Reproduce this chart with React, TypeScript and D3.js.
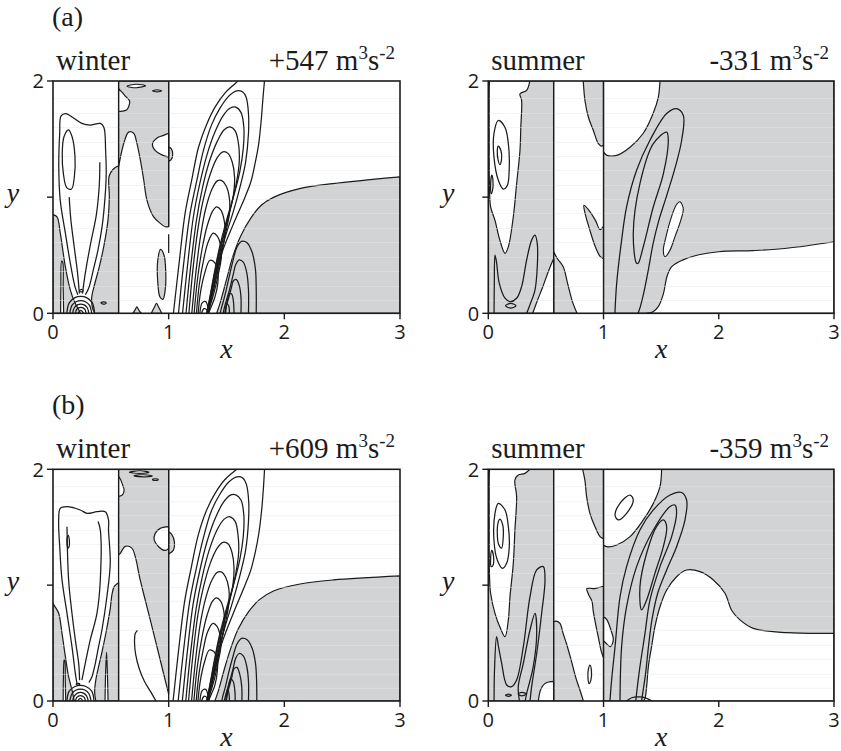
import * as d3 from 'd3'

type Pt = [number, number]
type Area = { e: Pt[]; c: Pt[] }

// ── Axes ────────────────────────────────────────────────────────────────────
const X_TICKS = [0, 1, 2, 3]
const Y_TICKS = [0, 1, 2]
const Y_TICK_LABELS = ['0', '', '2']
const STREAKS_Y = [0.11, 0.23, 0.36, 0.48, 0.61, 0.73, 0.86, 0.98, 1.1, 1.23, 1.35, 1.47, 1.6, 1.72, 1.85]

// ── (a) winter ──────────────────────────────────────────────────────────────
const WA_GRAY: Area[] = [
  { e: [[0, 0.85], [0.035, 0.83], [0.063, 0.69], [0.107, 0.4], [0.15, 0.2], [0.19, 0.09], [0.22, 0.035], [0.236, 0]], c: [[0, 0]] },
  { e: [[0.567, 1.27], [0.52, 1.24], [0.485, 1.18], [0.487, 1.0], [0.475, 0.8], [0.44, 0.58], [0.4, 0.4], [0.36, 0.25], [0.335, 0.14], [0.34, 0.05], [0.36, 0]], c: [[0.567, 0]] },
  { e: [[0.567, 1.26], [0.611, 1.46], [0.654, 1.56], [0.697, 1.55], [0.726, 1.46], [0.755, 1.32], [0.784, 1.15], [0.813, 0.97], [0.87, 0.83], [0.928, 0.774], [0.971, 0.745], [1, 0.745]], c: [[1, 2], [0.567, 2]] },
  { e: [[0.69, 0], [0.71, 0.03], [0.725, 0.055], [0.74, 0.03], [0.765, 0]], c: [] },
  { e: [[0.85, 0], [0.875, 0.05], [0.895, 0.085], [0.915, 0.05], [0.94, 0]], c: [] },
  { e: [[1, 1.43], [1.02, 1.42], [1.035, 1.37], [1.02, 1.32], [1, 1.31]], c: [] },
  { e: [[1.415, 0], [1.445, 0.09], [1.5, 0.29], [1.555, 0.49], [1.625, 0.67], [1.71, 0.82], [1.8, 0.93], [1.91, 1.0], [2.14, 1.075], [2.42, 1.117], [3, 1.175]], c: [[3, 0]] },
]
const WA_GRAY_BLOBS: Pt[][] = [
  [[0.93, 0.55], [0.96, 0.5], [0.975, 0.35], [0.97, 0.2], [0.95, 0.12], [0.925, 0.14], [0.905, 0.28], [0.905, 0.45]],
]
const WA_WHITE: Area[] = [
  { e: [[0.066, 0], [0.068, 0.22], [0.075, 0.45], [0.084, 0.44], [0.088, 0.22], [0.092, 0]], c: [] },
  { e: [[0.567, 1.935], [0.6, 1.9], [0.625, 1.87], [0.662, 1.83], [0.655, 1.78], [0.635, 1.75], [0.6, 1.74], [0.567, 1.74]], c: [] },
  { e: [[1, 1.55], [0.95, 1.53], [0.9, 1.51], [0.86, 1.46], [0.885, 1.4], [0.95, 1.36], [1, 1.345]], c: [] },
]
const WA_WHITE_BLOBS: Pt[][] = [
  [[0.64, 1.955], [0.72, 1.972], [0.8, 1.96], [0.72, 1.942]],
  [[0.86, 1.915], [0.9, 1.924], [0.94, 1.915], [0.9, 1.906]],
]
const WA_LOOPS: Pt[][] = [
  [[0.134, 1.58], [0.165, 1.52], [0.19, 1.35], [0.185, 1.18], [0.16, 1.07], [0.12, 1.08], [0.09, 1.2], [0.08, 1.38], [0.095, 1.52]],
  [[0.245, 0.205], [0.26, 0.195], [0.245, 0.185], [0.23, 0.195]],
  [[0.415, 0.09], [0.44, 0.098], [0.46, 0.088], [0.44, 0.078]],
]
const WA_LINES: Pt[][] = [
  [[0.215, 0.16], [0.19, 0.23], [0.15, 0.43], [0.107, 0.69], [0.063, 0.97], [0.05, 1.26], [0.058, 1.55], [0.07, 1.7], [0.11, 1.72], [0.18, 1.68], [0.25, 1.635], [0.32, 1.62], [0.41, 1.635], [0.44, 1.6], [0.455, 1.4], [0.46, 1.2], [0.45, 1.0], [0.425, 0.75], [0.39, 0.55], [0.35, 0.38], [0.31, 0.22], [0.28, 0.16]],
  [[0.228, 0.17], [0.212, 0.35], [0.185, 0.56], [0.155, 0.8], [0.14, 1.0]],
  [[0.255, 0.17], [0.28, 0.35], [0.325, 0.6], [0.375, 0.85], [0.4, 1.1], [0.405, 1.3]],
  [[0.12, 0], [0.14, 0.09], [0.19, 0.135], [0.24, 0.145], [0.29, 0.135], [0.34, 0.09], [0.36, 0]],
  [[0.145, 0], [0.165, 0.07], [0.2, 0.1], [0.24, 0.11], [0.28, 0.1], [0.315, 0.07], [0.335, 0]],
  [[0.17, 0], [0.185, 0.05], [0.215, 0.075], [0.24, 0.08], [0.265, 0.075], [0.295, 0.05], [0.31, 0]],
  [[0.195, 0], [0.205, 0.035], [0.24, 0.05], [0.275, 0.035], [0.285, 0]],
  [[0.215, 0], [0.24, 0.025], [0.265, 0]],
  [[1.041, 0], [1.09, 0.43], [1.142, 0.86], [1.2, 1.15], [1.258, 1.43], [1.33, 1.63], [1.402, 1.777], [1.49, 1.9], [1.574, 1.977], [1.62, 2.02]],
  [[1.83, 2.02], [1.815, 1.85], [1.8, 1.66], [1.777, 1.45], [1.747, 1.29], [1.71, 1.13], [1.66, 1.0], [1.56, 0.77], [1.46, 0.52], [1.4, 0.29], [1.365, 0.12], [1.345, 0]],
  [[1.085, 0], [1.13, 0.43], [1.185, 0.86], [1.245, 1.15], [1.3, 1.4], [1.37, 1.62], [1.44, 1.76], [1.52, 1.87], [1.59, 1.915], [1.64, 1.905], [1.67, 1.86], [1.69, 1.72], [1.69, 1.55], [1.665, 1.3], [1.62, 1.1], [1.56, 0.88], [1.49, 0.66], [1.43, 0.44], [1.385, 0.24], [1.355, 0.1], [1.34, 0]],
  [[1.12, 0], [1.165, 0.43], [1.215, 0.84], [1.27, 1.12], [1.33, 1.36], [1.4, 1.56], [1.47, 1.7], [1.53, 1.765], [1.58, 1.775], [1.625, 1.73], [1.65, 1.6], [1.645, 1.42], [1.615, 1.22], [1.565, 1.02], [1.5, 0.8], [1.44, 0.57], [1.395, 0.35], [1.36, 0.16], [1.34, 0.05], [1.335, 0]],
  [[1.15, 0], [1.19, 0.4], [1.24, 0.8], [1.29, 1.07], [1.35, 1.3], [1.42, 1.48], [1.48, 1.58], [1.53, 1.605], [1.575, 1.57], [1.605, 1.45], [1.61, 1.3], [1.585, 1.12], [1.54, 0.93], [1.48, 0.7], [1.425, 0.48], [1.385, 0.28], [1.355, 0.12], [1.335, 0.03], [1.33, 0]],
  [[1.175, 0], [1.21, 0.38], [1.255, 0.74], [1.3, 0.98], [1.36, 1.2], [1.42, 1.34], [1.47, 1.39], [1.515, 1.375], [1.55, 1.3], [1.57, 1.17], [1.56, 1.02], [1.52, 0.84], [1.465, 0.62], [1.415, 0.4], [1.38, 0.22], [1.35, 0.08], [1.33, 0]],
  [[1.2, 0], [1.235, 0.35], [1.275, 0.66], [1.32, 0.9], [1.375, 1.07], [1.42, 1.14], [1.455, 1.145], [1.495, 1.1], [1.525, 0.99], [1.525, 0.86], [1.49, 0.68], [1.445, 0.48], [1.4, 0.28], [1.365, 0.12], [1.335, 0.02], [1.33, 0]],
  [[1.22, 0], [1.25, 0.3], [1.29, 0.56], [1.335, 0.76], [1.38, 0.88], [1.415, 0.917], [1.45, 0.89], [1.48, 0.8], [1.485, 0.68], [1.46, 0.52], [1.42, 0.34], [1.38, 0.17], [1.35, 0.06], [1.33, 0]],
  [[1.24, 0], [1.265, 0.25], [1.3, 0.45], [1.34, 0.61], [1.385, 0.69], [1.42, 0.665], [1.45, 0.58], [1.455, 0.48], [1.43, 0.34], [1.395, 0.19], [1.36, 0.07], [1.335, 0]],
  [[1.255, 0], [1.275, 0.18], [1.31, 0.34], [1.355, 0.455], [1.395, 0.44], [1.425, 0.36], [1.425, 0.26], [1.4, 0.14], [1.365, 0.05], [1.345, 0]],
  [[1.27, 0], [1.29, 0.09], [1.32, 0.1], [1.34, 0.05], [1.345, 0]],
  [[1.285, 0], [1.305, 0.04], [1.33, 0.03], [1.335, 0]],
  [[1.757, 0], [1.757, 0.2], [1.75, 0.38], [1.72, 0.53], [1.675, 0.61], [1.63, 0.62], [1.59, 0.57], [1.555, 0.45], [1.52, 0.3], [1.485, 0.15], [1.455, 0.04], [1.445, 0]],
  [[1.69, 0], [1.69, 0.2], [1.675, 0.35], [1.645, 0.44], [1.61, 0.46], [1.58, 0.42], [1.555, 0.32], [1.525, 0.2], [1.49, 0.08], [1.47, 0]],
  [[1.625, 0], [1.625, 0.14], [1.61, 0.24], [1.585, 0.29], [1.56, 0.28], [1.54, 0.21], [1.515, 0.12], [1.49, 0.03], [1.485, 0]],
  [[1.565, 0], [1.56, 0.1], [1.545, 0.165], [1.525, 0.17], [1.51, 0.12], [1.495, 0.05], [1.49, 0]],
  [[1.525, 0], [1.52, 0.06], [1.505, 0.08], [1.495, 0.04], [1.493, 0]],
  [[1, 0.52], [1, 0.68]],
]
const WA_WALLS: Pt[][] = [[[0.567, 0], [0.567, 2]], [[1, 0.745], [1, 2]]]

// ── (b) winter ──────────────────────────────────────────────────────────────
const WB_GRAY: Area[] = [
  { e: [[0, 0.84], [0.02, 0.81], [0.049, 0.757], [0.078, 0.584], [0.107, 0.383], [0.135, 0.21], [0.164, 0.095], [0.184, 0]], c: [[0, 0]] },
  { e: [[0.567, 1.02], [0.53, 0.99], [0.51, 0.92], [0.495, 0.8], [0.46, 0.6], [0.425, 0.43], [0.395, 0.3], [0.37, 0.18], [0.36, 0.08], [0.37, 0]], c: [[0.567, 0]] },
  { e: [[0.567, 1.26], [0.582, 1.275], [0.625, 1.335], [0.682, 1.32], [0.711, 1.246], [0.754, 1.045], [0.812, 0.814], [0.87, 0.584], [0.927, 0.354], [0.97, 0.181], [1, 0.06]], c: [[1, 2], [0.567, 2]] },
  { e: [[1, 1.46], [1.025, 1.44], [1.05, 1.37], [1.04, 1.3], [1, 1.27]], c: [] },
  { e: [[1.4, 0], [1.43, 0.09], [1.48, 0.27], [1.535, 0.45], [1.6, 0.62], [1.69, 0.77], [1.785, 0.875], [1.906, 0.95], [2.136, 1.01], [2.424, 1.045], [3, 1.08]], c: [[3, 0]] },
]
const WB_GRAY_BLOBS: Pt[][] = []
const WB_WHITE: Area[] = [
  { e: [[0.088, 0], [0.09, 0.2], [0.096, 0.36], [0.103, 0.34], [0.106, 0.18], [0.11, 0]], c: [] },
  { e: [[0.45, 0], [0.455, 0.25], [0.463, 0.42], [0.47, 0.25], [0.476, 0]], c: [] },
  { e: [[0.567, 1.94], [0.585, 1.91], [0.6, 1.87], [0.615, 1.82], [0.6, 1.78], [0.567, 1.765]], c: [] },
  { e: [[1, 1.505], [0.927, 1.49], [0.884, 1.447], [0.875, 1.39], [0.913, 1.332], [0.97, 1.3], [1, 1.318]], c: [] },
]
const WB_WHITE_BLOBS: Pt[][] = [
  [[0.66, 1.975], [0.75, 1.987], [0.83, 1.975], [0.75, 1.965]],
  [[0.7, 1.945], [0.78, 1.953], [0.86, 1.942], [0.78, 1.935]],
  [[0.86, 1.91], [0.885, 1.917], [0.91, 1.91], [0.885, 1.903]],
]
const WB_LOOPS: Pt[][] = [
  [[0.131, 1.43], [0.141, 1.39], [0.138, 1.33], [0.128, 1.32], [0.121, 1.36], [0.123, 1.41]],
  [[0.2, 0.145], [0.215, 0.152], [0.232, 0.145], [0.215, 0.136]],
]
const WB_LINES: Pt[][] = [
  [[0.207, 0.153], [0.193, 0.239], [0.164, 0.469], [0.121, 0.757], [0.078, 1.045], [0.058, 1.332], [0.049, 1.563], [0.063, 1.663], [0.121, 1.678], [0.236, 1.649], [0.294, 1.62], [0.38, 1.634], [0.452, 1.634], [0.48, 1.563], [0.48, 1.476], [0.495, 1.189], [0.466, 0.9], [0.423, 0.613], [0.394, 0.469], [0.366, 0.325], [0.337, 0.21], [0.31, 0.16]],
  [[0.23, 0.18], [0.222, 0.325], [0.193, 0.527], [0.164, 0.757], [0.135, 1.045], [0.121, 1.505]],
  [[0.25, 0.18], [0.279, 0.325], [0.322, 0.527], [0.38, 0.757], [0.409, 1.045], [0.409, 1.476], [0.39, 1.55]],
  [[0.12, 0], [0.14, 0.085], [0.19, 0.125], [0.236, 0.135], [0.285, 0.125], [0.335, 0.085], [0.355, 0]],
  [[0.145, 0], [0.165, 0.065], [0.2, 0.095], [0.236, 0.103], [0.275, 0.095], [0.31, 0.065], [0.33, 0]],
  [[0.17, 0], [0.185, 0.045], [0.215, 0.07], [0.236, 0.075], [0.26, 0.07], [0.29, 0.045], [0.305, 0]],
  [[0.195, 0], [0.205, 0.032], [0.236, 0.047], [0.27, 0.032], [0.28, 0]],
  [[0.213, 0], [0.236, 0.022], [0.26, 0]],
  [[0.73, 0.61], [0.71, 0.58], [0.705, 0.5], [0.715, 0.4], [0.745, 0.28], [0.79, 0.17], [0.85, 0.07], [0.89, 0]],
  [[1.038, 0], [1.085, 0.43], [1.138, 0.86], [1.195, 1.15], [1.255, 1.43], [1.325, 1.64], [1.4, 1.79], [1.485, 1.91], [1.57, 1.985], [1.61, 2.02]],
  [[1.83, 2.02], [1.82, 1.85], [1.805, 1.66], [1.78, 1.45], [1.75, 1.29], [1.71, 1.13], [1.66, 1.0], [1.56, 0.76], [1.46, 0.5], [1.4, 0.28], [1.365, 0.11], [1.345, 0]],
  [[1.082, 0], [1.128, 0.43], [1.182, 0.86], [1.24, 1.15], [1.298, 1.4], [1.365, 1.63], [1.44, 1.78], [1.52, 1.89], [1.59, 1.935], [1.64, 1.925], [1.672, 1.87], [1.692, 1.72], [1.69, 1.55], [1.665, 1.3], [1.62, 1.1], [1.56, 0.88], [1.49, 0.65], [1.43, 0.43], [1.385, 0.23], [1.355, 0.1], [1.34, 0]],
  [[1.118, 0], [1.162, 0.43], [1.212, 0.84], [1.268, 1.12], [1.33, 1.37], [1.4, 1.57], [1.47, 1.71], [1.53, 1.775], [1.58, 1.78], [1.625, 1.735], [1.65, 1.6], [1.645, 1.42], [1.615, 1.22], [1.565, 1.02], [1.5, 0.8], [1.44, 0.57], [1.395, 0.35], [1.36, 0.16], [1.34, 0.05], [1.335, 0]],
  [[1.148, 0], [1.188, 0.4], [1.238, 0.8], [1.29, 1.07], [1.35, 1.3], [1.42, 1.48], [1.48, 1.57], [1.53, 1.59], [1.575, 1.55], [1.6, 1.43], [1.605, 1.28], [1.58, 1.1], [1.54, 0.92], [1.48, 0.7], [1.425, 0.48], [1.385, 0.28], [1.355, 0.12], [1.335, 0.03], [1.33, 0]],
  [[1.172, 0], [1.208, 0.38], [1.252, 0.74], [1.3, 0.98], [1.36, 1.19], [1.42, 1.32], [1.47, 1.37], [1.515, 1.355], [1.548, 1.28], [1.565, 1.15], [1.555, 1.0], [1.515, 0.82], [1.465, 0.62], [1.415, 0.4], [1.38, 0.22], [1.35, 0.08], [1.33, 0]],
  [[1.198, 0], [1.232, 0.35], [1.272, 0.66], [1.318, 0.88], [1.372, 1.04], [1.418, 1.11], [1.455, 1.115], [1.492, 1.07], [1.52, 0.97], [1.52, 0.84], [1.49, 0.67], [1.445, 0.48], [1.4, 0.28], [1.365, 0.12], [1.335, 0.02], [1.33, 0]],
  [[1.218, 0], [1.248, 0.3], [1.288, 0.55], [1.332, 0.74], [1.378, 0.86], [1.413, 0.89], [1.448, 0.865], [1.476, 0.78], [1.48, 0.66], [1.455, 0.51], [1.418, 0.33], [1.38, 0.17], [1.35, 0.06], [1.33, 0]],
  [[1.238, 0], [1.263, 0.24], [1.298, 0.44], [1.338, 0.6], [1.383, 0.67], [1.418, 0.645], [1.446, 0.56], [1.45, 0.46], [1.426, 0.33], [1.393, 0.18], [1.36, 0.07], [1.335, 0]],
  [[1.253, 0], [1.273, 0.17], [1.308, 0.33], [1.352, 0.44], [1.392, 0.425], [1.42, 0.35], [1.42, 0.25], [1.398, 0.13], [1.365, 0.05], [1.345, 0]],
  [[1.27, 0], [1.29, 0.09], [1.32, 0.1], [1.34, 0.05], [1.345, 0]],
  [[1.285, 0], [1.305, 0.04], [1.33, 0.03], [1.335, 0]],
  [[1.762, 0], [1.76, 0.18], [1.75, 0.33], [1.72, 0.46], [1.675, 0.53], [1.63, 0.54], [1.59, 0.49], [1.555, 0.38], [1.52, 0.25], [1.49, 0.12], [1.465, 0.03], [1.46, 0]],
  [[1.69, 0], [1.69, 0.17], [1.675, 0.3], [1.645, 0.39], [1.61, 0.41], [1.58, 0.37], [1.555, 0.27], [1.525, 0.16], [1.495, 0.06], [1.48, 0]],
  [[1.633, 0], [1.632, 0.12], [1.615, 0.23], [1.59, 0.29], [1.565, 0.28], [1.545, 0.2], [1.52, 0.11], [1.5, 0.03], [1.495, 0]],
  [[1.575, 0], [1.572, 0.09], [1.557, 0.17], [1.535, 0.19], [1.518, 0.13], [1.505, 0.05], [1.5, 0]],
  [[1.525, 0], [1.522, 0.06], [1.51, 0.1], [1.5, 0.06], [1.497, 0]],
]
const WB_WALLS: Pt[][] = [[[0.567, 0], [0.567, 2]], [[1, 0], [1, 2]]]

// ── (a) summer ──────────────────────────────────────────────────────────────
const SA_GRAY: Area[] = [
  { e: [], c: [[0, 0], [0, 2], [0.567, 2], [0.567, 0]] },
  { e: [[0.824, 2], [0.839, 1.83], [0.868, 1.69], [0.911, 1.576], [0.955, 1.46], [0.98, 1.44], [1, 1.447]], c: [[1, 2]] },
  { e: [[1, 0.75], [0.97, 0.72], [0.93, 0.8], [0.87, 0.89], [0.83, 0.93], [0.84, 0.86], [0.88, 0.72], [0.93, 0.57], [0.97, 0.49], [1, 0.47]], c: [] },
  { e: [[0.567, 0.53], [0.6, 0.47], [0.65, 0.4], [0.69, 0.25], [0.73, 0.1], [0.77, 0]], c: [[0.567, 0]] },
  { e: [], c: [[1, 0], [1, 2], [3, 2], [3, 0]] },
]
const SA_GRAY_BLOBS: Pt[][] = []
const SA_WHITE: Area[] = [
  { e: [[0.36, 2], [0.333, 1.92], [0.275, 1.89], [0.289, 1.834], [0.282, 1.6], [0.275, 1.404], [0.246, 1.117], [0.217, 0.831], [0.174, 0.573], [0.145, 0.516], [0.1, 0.63], [0.058, 0.8], [0.02, 0.917], [0.01, 1.1], [0.008, 1.5], [0.008, 1.9], [0.01, 2]], c: [] },
  { e: [[0.567, 0.47], [0.545, 0.42], [0.51, 0.33], [0.47, 0.22], [0.43, 0.12], [0.4, 0.04], [0.385, 0]], c: [[0.567, 0]] },
  { e: [[1.49, 2], [1.475, 1.86], [1.43, 1.72], [1.345, 1.55], [1.23, 1.43], [1.114, 1.36], [1.03, 1.36], [1, 1.39]], c: [[1, 2]] },
  { e: [[3, 0.616], [2.59, 0.56], [2.3, 0.54], [2.0, 0.53], [1.81, 0.5], [1.69, 0.46], [1.59, 0.4], [1.55, 0.315], [1.52, 0.17], [1.475, 0.057], [1.43, 0.014], [1.37, 0]], c: [[3, 0]] },
]
const SA_WHITE_BLOBS: Pt[][] = [
  [[1.663, 0.96], [1.692, 0.9], [1.67, 0.8], [1.62, 0.66], [1.577, 0.544], [1.533, 0.487], [1.519, 0.544], [1.54, 0.65], [1.58, 0.8], [1.63, 0.93]],
]
const SA_LOOPS: Pt[][] = [
  [[0.087, 1.66], [0.145, 1.6], [0.174, 1.46], [0.182, 1.26], [0.165, 1.1], [0.13, 1.07], [0.087, 1.146], [0.049, 1.347], [0.049, 1.547]],
  [[0.085, 1.44], [0.11, 1.4], [0.115, 1.33], [0.1, 1.28], [0.085, 1.32], [0.078, 1.4]],
  [[0.03, 1.19], [0.04, 1.15], [0.035, 1.05], [0.025, 1.03], [0.02, 1.1]],
  [[0.15, 0.065], [0.195, 0.085], [0.24, 0.065], [0.195, 0.045]],
  [[1.287, 0.43], [1.258, 0.688], [1.316, 1.117], [1.432, 1.46], [1.548, 1.56], [1.562, 1.49], [1.519, 1.2], [1.432, 0.917], [1.345, 0.573], [1.3, 0.43]],
]
const SA_LINES: Pt[][] = [
  [[0.05, 0], [0.052, 0.25], [0.058, 0.5], [0.07, 0.45], [0.095, 0.26], [0.145, 0.13], [0.188, 0.1], [0.246, 0.13], [0.289, 0.23], [0.333, 0.46], [0.376, 0.63], [0.405, 0.673], [0.425, 0.6], [0.425, 0.4], [0.405, 0.2], [0.36, 0.07], [0.333, 0]],
  [[1.099, 0], [1.114, 0.258], [1.157, 0.63], [1.2, 0.917], [1.287, 1.232], [1.403, 1.49], [1.548, 1.72], [1.634, 1.762], [1.692, 1.705], [1.678, 1.49], [1.62, 1.25], [1.55, 1.02], [1.48, 0.8], [1.43, 0.6], [1.39, 0.38], [1.35, 0.18], [1.32, 0.06], [1.3, 0]],
]
const SA_WALLS: Pt[][] = [[[0.567, 0], [0.567, 2]], [[1, 0], [1, 2]]]

// ── (b) summer ──────────────────────────────────────────────────────────────
const SB_GRAY: Area[] = [
  { e: [], c: [[0, 0], [0, 2], [0.567, 2], [0.567, 0]] },
  { e: [[0.819, 2], [0.839, 1.9], [0.853, 1.764], [0.882, 1.62], [0.926, 1.505], [0.97, 1.419], [1, 1.4]], c: [[1, 2]] },
  { e: [[0.567, 0.685], [0.59, 0.69], [0.622, 0.67], [0.65, 0.58], [0.68, 0.49], [0.72, 0.35], [0.76, 0.2], [0.8, 0.08], [0.825, 0]], c: [[0.567, 0]] },
  { e: [[1, 0.99], [0.96, 0.98], [0.92, 0.97], [0.88, 0.975], [0.855, 0.97], [0.87, 0.92], [0.9, 0.86], [0.91, 0.78], [0.93, 0.67], [0.955, 0.55], [0.98, 0.43], [1, 0.37]], c: [] },
  { e: [], c: [[1, 0], [1, 2], [3, 2], [3, 0]] },
]
const SB_GRAY_BLOBS: Pt[][] = []
const SB_WHITE: Area[] = [
  { e: [[0.36, 2], [0.318, 1.965], [0.26, 1.95], [0.231, 1.908], [0.246, 1.764], [0.231, 1.476], [0.217, 1.188], [0.188, 0.9], [0.174, 0.7], [0.145, 0.555], [0.1, 0.64], [0.058, 0.757], [0.02, 0.93], [0.01, 1.1], [0.008, 1.5], [0.008, 1.9], [0.01, 2]], c: [] },
  { e: [[0.567, 0.17], [0.53, 0.165], [0.49, 0.15], [0.455, 0.1], [0.44, 0.04], [0.435, 0]], c: [[0.567, 0]] },
  { e: [[1.504, 2], [1.49, 1.85], [1.432, 1.706], [1.345, 1.563], [1.23, 1.419], [1.114, 1.347], [1.027, 1.332], [1, 1.347]], c: [[1, 2]] },
  { e: [[3, 0.584], [2.589, 0.59], [2.3, 0.627], [2.184, 0.7], [2.11, 0.786], [2.054, 0.93], [1.953, 1.045], [1.837, 1.117], [1.72, 1.131], [1.634, 1.073], [1.548, 0.958], [1.49, 0.814], [1.446, 0.642], [1.417, 0.47], [1.389, 0.296], [1.374, 0.124], [1.36, 0.023], [1.345, 0]], c: [[3, 0]] },
  { e: [[1, 0.73], [1.03, 0.7], [1.065, 0.61], [1.085, 0.53], [1.06, 0.47], [1.02, 0.5], [1, 0.52]], c: [] },
]
const SB_WHITE_BLOBS: Pt[][] = []
const SB_LOOPS: Pt[][] = [
  [[0.087, 1.706], [0.145, 1.649], [0.174, 1.505], [0.182, 1.332], [0.159, 1.188], [0.124, 1.145], [0.078, 1.217], [0.049, 1.39], [0.058, 1.62]],
  [[0.1, 1.57], [0.125, 1.52], [0.13, 1.42], [0.115, 1.32], [0.09, 1.35], [0.078, 1.45], [0.085, 1.54]],
  [[0.03, 1.3], [0.045, 1.25], [0.04, 1.17], [0.025, 1.16], [0.02, 1.23]],
  [[0.15, 0.05], [0.175, 0.06], [0.2, 0.05], [0.175, 0.04]],
  [[0.26, 0.06], [0.29, 0.075], [0.33, 0.06], [0.29, 0.045]],
  [[0.882, 0.31], [0.895, 0.26], [0.89, 0.18], [0.875, 0.15], [0.865, 0.2], [0.868, 0.27]],
  [[1.23, 1.778], [1.258, 1.735], [1.2, 1.62], [1.128, 1.563], [1.1, 1.606], [1.143, 1.706]],
  [[1.33, 0.786], [1.316, 0.987], [1.374, 1.275], [1.46, 1.505], [1.519, 1.563], [1.548, 1.505], [1.519, 1.332], [1.446, 1.102], [1.374, 0.872]],
]
const SB_LINES: Pt[][] = [
  [[0.05, 0], [0.055, 0.3], [0.072, 0.555], [0.09, 0.46], [0.116, 0.325], [0.16, 0.138], [0.202, 0.124], [0.246, 0.181], [0.304, 0.469], [0.362, 0.9], [0.42, 1.131], [0.477, 1.16], [0.492, 1.045], [0.463, 0.757], [0.42, 0.41], [0.376, 0.124], [0.362, 0]],
  [[0.27, 0], [0.26, 0.124], [0.304, 0.325], [0.362, 0.613], [0.405, 0.757], [0.42, 0.584], [0.39, 0.296], [0.333, 0.066], [0.32, 0]],
  [[1.056, 0], [1.07, 0.18], [1.1, 0.47], [1.143, 0.9], [1.2, 1.16], [1.316, 1.476], [1.432, 1.649], [1.577, 1.778], [1.678, 1.8], [1.721, 1.735], [1.707, 1.563], [1.634, 1.332], [1.548, 1.131], [1.47, 0.93], [1.42, 0.7], [1.39, 0.469], [1.365, 0.239], [1.34, 0.066], [1.33, 0]],
  [[1.143, 0], [1.157, 0.469], [1.2, 0.814], [1.287, 1.16], [1.432, 1.476], [1.577, 1.678], [1.62, 1.692], [1.634, 1.62], [1.591, 1.419], [1.49, 1.16], [1.403, 0.872], [1.36, 0.584], [1.316, 0.296], [1.287, 0.066], [1.28, 0]],
  [[1.2, 0], [1.25, 0.03], [1.32, 0.035], [1.38, 0.02], [1.42, 0]],
]
const SB_WALLS: Pt[][] = [[[0.567, 0], [0.567, 2]], [[1, 0], [1, 2]]]

// ── Layout ──────────────────────────────────────────────────────────────────
const GRAY = '#d1d3d4'
const INK = '#1b1b1b'
const SERIF = "'Liberation Serif', 'Times New Roman', serif"
const SANS = "'Open Sans', 'DejaVu Sans', sans-serif"

interface PanelSpec {
  id: string
  left: number; right: number; top: number; bottom: number
  season: string; total: string; tag?: string
  gray: Area[]; grayBlobs: Pt[][]; white: Area[]; whiteBlobs: Pt[][]
  loops: Pt[][]; lines: Pt[][]; walls: Pt[][]
}

const PANELS: PanelSpec[] = [
  { id: 'wa', left: 53, right: 400, top: 81, bottom: 313.3, season: 'winter', total: '+547', tag: '(a)',
    gray: WA_GRAY, grayBlobs: WA_GRAY_BLOBS, white: WA_WHITE, whiteBlobs: WA_WHITE_BLOBS, loops: WA_LOOPS, lines: WA_LINES, walls: WA_WALLS },
  { id: 'sa', left: 488.3, right: 834, top: 81, bottom: 313.3, season: 'summer', total: '-331',
    gray: SA_GRAY, grayBlobs: SA_GRAY_BLOBS, white: SA_WHITE, whiteBlobs: SA_WHITE_BLOBS, loops: SA_LOOPS, lines: SA_LINES, walls: SA_WALLS },
  { id: 'wb', left: 53, right: 400, top: 469.3, bottom: 701, season: 'winter', total: '+609', tag: '(b)',
    gray: WB_GRAY, grayBlobs: WB_GRAY_BLOBS, white: WB_WHITE, whiteBlobs: WB_WHITE_BLOBS, loops: WB_LOOPS, lines: WB_LINES, walls: WB_WALLS },
  { id: 'sb', left: 488.3, right: 834, top: 469.3, bottom: 701, season: 'summer', total: '-359',
    gray: SB_GRAY, grayBlobs: SB_GRAY_BLOBS, white: SB_WHITE, whiteBlobs: SB_WHITE_BLOBS, loops: SB_LOOPS, lines: SB_LINES, walls: SB_WALLS },
]

function Panel({ p }: { p: PanelSpec }) {
  const x = d3.scaleLinear([0, 3], [p.left, p.right])
  const y = d3.scaleLinear([0, 2], [p.bottom, p.top])
  const smooth = d3.line<Pt>().x(d => x(d[0])).y(d => y(d[1])).curve(d3.curveCatmullRom.alpha(0.5))
  const ring = d3.line<Pt>().x(d => x(d[0])).y(d => y(d[1])).curve(d3.curveCatmullRomClosed.alpha(0.5))
  const straight = d3.line<Pt>().x(d => x(d[0])).y(d => y(d[1]))

  // smooth contour edge, then straight back along the frame / walls
  const areaPath = (a: Area) => {
    const tail = a.c.map(q => `${x(q[0])},${y(q[1])}`)
    if (!a.e.length) return `M${tail.join('L')}Z`
    return (smooth(a.e) ?? '') + tail.map(s => `L${s}`).join('') + 'Z'
  }

  const w = p.right - p.left
  const h = p.bottom - p.top
  const clip = `clip-${p.id}`
  const cx = (p.left + p.right) / 2

  return (
    <g>
      <defs>
        <clipPath id={clip}>
          <rect x={p.left} y={p.top} width={w} height={h} />
        </clipPath>
      </defs>

      <g clipPath={`url(#${clip})`}>
        <rect x={p.left} y={p.top} width={w} height={h} fill="#fff" />
        {p.gray.map((a, i) => (
          <path key={`g${i}`} d={areaPath(a)} fill={GRAY} stroke={INK} strokeWidth={1.2} strokeLinejoin="round" />
        ))}
        {p.grayBlobs.map((b, i) => (
          <path key={`gb${i}`} d={ring(b) ?? ''} fill={GRAY} stroke={INK} strokeWidth={1.2} />
        ))}
        {p.white.map((a, i) => (
          <path key={`w${i}`} d={areaPath(a)} fill="#fff" stroke={INK} strokeWidth={1.2} strokeLinejoin="round" />
        ))}
        {p.whiteBlobs.map((b, i) => (
          <path key={`wb${i}`} d={ring(b) ?? ''} fill="#fff" stroke={INK} strokeWidth={1.1} />
        ))}
        {STREAKS_Y.map(v => (
          <line key={`s${v}`} x1={p.left} x2={p.right} y1={y(v)} y2={y(v)} stroke="#e8e8e8" strokeWidth={0.8} opacity={0.6} />
        ))}
        {p.loops.map((b, i) => (
          <path key={`l${i}`} d={ring(b) ?? ''} fill="none" stroke={INK} strokeWidth={1.25} />
        ))}
        {p.lines.map((b, i) => (
          <path key={`c${i}`} d={smooth(b) ?? ''} fill="none" stroke={INK} strokeWidth={1.25} />
        ))}
        {p.walls.map((b, i) => (
          <path key={`v${i}`} d={straight(b) ?? ''} fill="none" stroke={INK} strokeWidth={1.3} />
        ))}
      </g>

      <rect x={p.left} y={p.top} width={w} height={h} fill="none" stroke={INK} strokeWidth={1.6} />

      {Y_TICKS.map((t, i) => (
        <g key={`yt${t}`}>
          <line x1={p.left - 6} x2={p.left} y1={y(t)} y2={y(t)} stroke={INK} strokeWidth={1.4} />
          <text x={p.left - 9} y={y(t)} dy="0.36em" textAnchor="end" fontFamily={SANS} fontSize={20} fill={INK}>
            {Y_TICK_LABELS[i]}
          </text>
        </g>
      ))}
      {X_TICKS.map(t => (
        <g key={`xt${t}`}>
          <line x1={x(t)} x2={x(t)} y1={p.bottom} y2={p.bottom + 6} stroke={INK} strokeWidth={1.4} />
          <text x={x(t)} y={p.bottom + 26} textAnchor="middle" fontFamily={SANS} fontSize={20} fill={INK}>
            {t}
          </text>
        </g>
      ))}

      <text x={cx} y={p.bottom + 45} textAnchor="middle" fontFamily={SERIF} fontStyle="italic" fontSize={28} fill={INK}>x</text>
      <text x={p.left - 40} y={y(1) + 5} textAnchor="middle" fontFamily={SERIF} fontStyle="italic" fontSize={28} fill={INK}>y</text>

      <text x={p.left + 3} y={p.top - 11} fontFamily={SERIF} fontSize={29} fill={INK}>{p.season}</text>
      <text x={p.right - 5} y={p.top - 11} textAnchor="end" fontFamily={SERIF} fontSize={29} fill={INK}>
        {p.total} m<tspan dy={-11} fontSize={19}>3</tspan><tspan dy={11}>s</tspan><tspan dy={-11} fontSize={19}>-2</tspan>
      </text>
      {p.tag && (
        <text x={p.left - 1} y={p.top - 55} fontFamily={SERIF} fontSize={28} fill={INK}>{p.tag}</text>
      )}
    </g>
  )
}

export default function App() {
  return (
    <svg width={841} height={751} style={{ position: 'absolute', left: 0, top: 0, background: '#fff' }}>
      <rect width={841} height={751} fill="#fff" />
      {PANELS.map(p => <Panel key={p.id} p={p} />)}
    </svg>
  )
}
